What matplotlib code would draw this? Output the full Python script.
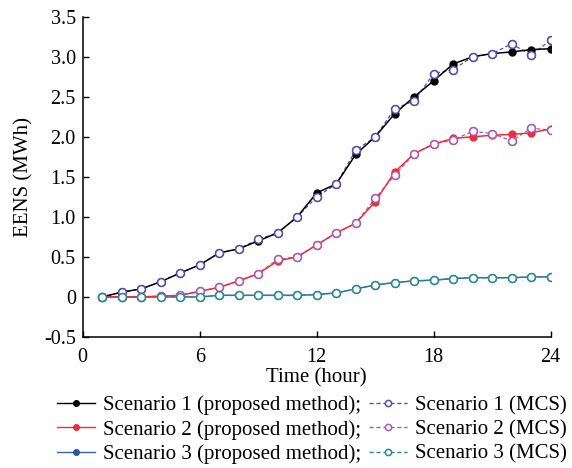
import matplotlib
matplotlib.use("Agg")
import matplotlib.pyplot as plt

hours = list(range(1, 25))

s1_prop = [0, 0.06, 0.10, 0.19, 0.30, 0.40, 0.55, 0.60, 0.70, 0.80, 1.00, 1.30,
           1.41, 1.78, 2.00, 2.29, 2.50, 2.70, 2.91, 3.00, 3.04, 3.06, 3.09, 3.10]
s1_mcs = [0, 0.06, 0.10, 0.19, 0.30, 0.40, 0.55, 0.60, 0.72, 0.80, 1.00, 1.25,
          1.41, 1.83, 2.00, 2.35, 2.45, 2.79, 2.84, 3.00, 3.04, 3.16, 3.02, 3.21]
s2_prop = [0, 0, 0, 0.01, 0.02, 0.07, 0.12, 0.20, 0.29, 0.45, 0.50, 0.65,
           0.80, 0.92, 1.19, 1.56, 1.79, 1.91, 1.98, 2.00, 2.02, 2.03, 2.05, 2.10]
s2_mcs = [0, 0, 0, 0.01, 0.02, 0.07, 0.12, 0.20, 0.29, 0.47, 0.50, 0.65,
          0.80, 0.92, 1.23, 1.52, 1.79, 1.91, 1.96, 2.07, 2.04, 1.95, 2.11, 2.08]
s3_prop = [0, 0, 0, 0, 0, 0, 0.02, 0.02, 0.02, 0.02, 0.02, 0.03,
           0.05, 0.10, 0.15, 0.18, 0.20, 0.21, 0.23, 0.24, 0.24, 0.24, 0.25, 0.25]
s3_mcs = [0, 0, 0, 0, 0, 0, 0.02, 0.02, 0.02, 0.02, 0.02, 0.03,
          0.05, 0.10, 0.15, 0.18, 0.20, 0.21, 0.23, 0.24, 0.24, 0.24, 0.25, 0.25]

xticks = [0, 6, 12, 18, 24]
yticks = [-0.5, 0, 0.5, 1.0, 1.5, 2.0, 2.5, 3.0, 3.5]
ytick_labels = ["-0.5", "0", "0.5", "1.0", "1.5", "2.0", "2.5", "3.0", "3.5"]

plt.rcParams['font.family'] = ['Liberation Serif', 'DejaVu Serif']
fs_tick = 14.5
fs_lab = 15

fig = plt.figure(figsize=(5.72, 4.68), dpi=100)
ax = fig.add_axes([0.1446, 0.280, 0.8182, 0.6843])

lw = 1.1
ms = 5
dash = (3, 2)
prop_series = [(s1_prop, 'black', 'black', 'Scenario 1 (proposed method);', 3),
               (s2_prop, '#ee2d3a', '#ee2d3a', 'Scenario 2 (proposed method);', 3),
               (s3_prop, '#3a62b0', '#2a55a8', 'Scenario 3 (proposed method);', 1.9)]
mcs_series = [(s1_mcs, '#5a4ea8', 'Scenario 1 (MCS)'),
              (s2_mcs, '#a85ab8', 'Scenario 2 (MCS)'),
              (s3_mcs, '#2a8a8c', 'Scenario 3 (MCS)')]

handles_prop = []
for vals, lc, mc, lab, z in prop_series:
    h, = ax.plot(hours, vals, '-', color=lc, lw=lw, marker='o', ms=ms,
                 mfc=mc, mec=mc, label=lab, zorder=z)
    handles_prop.append(h)

handles_mcs = []
for vals, c, lab in mcs_series:
    h, = ax.plot(hours, vals, color=c, lw=0.9, dashes=dash, marker='o',
                 ms=ms + 0.6, mfc='white', mec=c, mew=1.1, label=lab, zorder=2)
    handles_mcs.append(h)
    # hollow markers drawn above the solid lines
    ax.plot(hours, vals, linestyle='none', marker='o', ms=ms + 0.6,
            mfc='white', mec=c, mew=1.1, zorder=4)

ax.set_xlim(0, 24)
ax.set_ylim(-0.5, 3.5)
ax.set_xticks(xticks)
ax.set_xticklabels([str(v) for v in xticks], fontsize=fs_tick)
ax.set_yticks(yticks)
ax.set_yticklabels(ytick_labels, fontsize=fs_tick)
ax.tick_params(direction='in', length=4, width=1)
ax.tick_params(axis='x', pad=8)
ax.tick_params(axis='y', pad=5)
for s in ['top', 'right']:
    ax.spines[s].set_visible(False)
for s in ['left', 'bottom']:
    ax.spines[s].set_linewidth(1.1)

ax.set_xlabel('Time (hour)', fontsize=fs_lab)
ax.xaxis.set_label_coords(0.5, -0.097)
ax.set_ylabel('EENS (MWh)', fontsize=fs_lab)
ax.yaxis.set_label_coords(-0.105, 0.5)

leg = fig.legend(handles=handles_prop + handles_mcs, ncol=2, frameon=False,
                 fontsize=fs_lab, loc='upper left', bbox_to_anchor=(0.0997, 0.155),
                 bbox_transform=fig.transFigure, handlelength=1.8,
                 handletextpad=0.4, columnspacing=0.4, labelspacing=0.23,
                 borderaxespad=0, borderpad=0, markerscale=0.8)
for lh in leg.legend_handles:
    lh.set_linewidth(1.0)

fig.savefig('out.png', dpi=100)
